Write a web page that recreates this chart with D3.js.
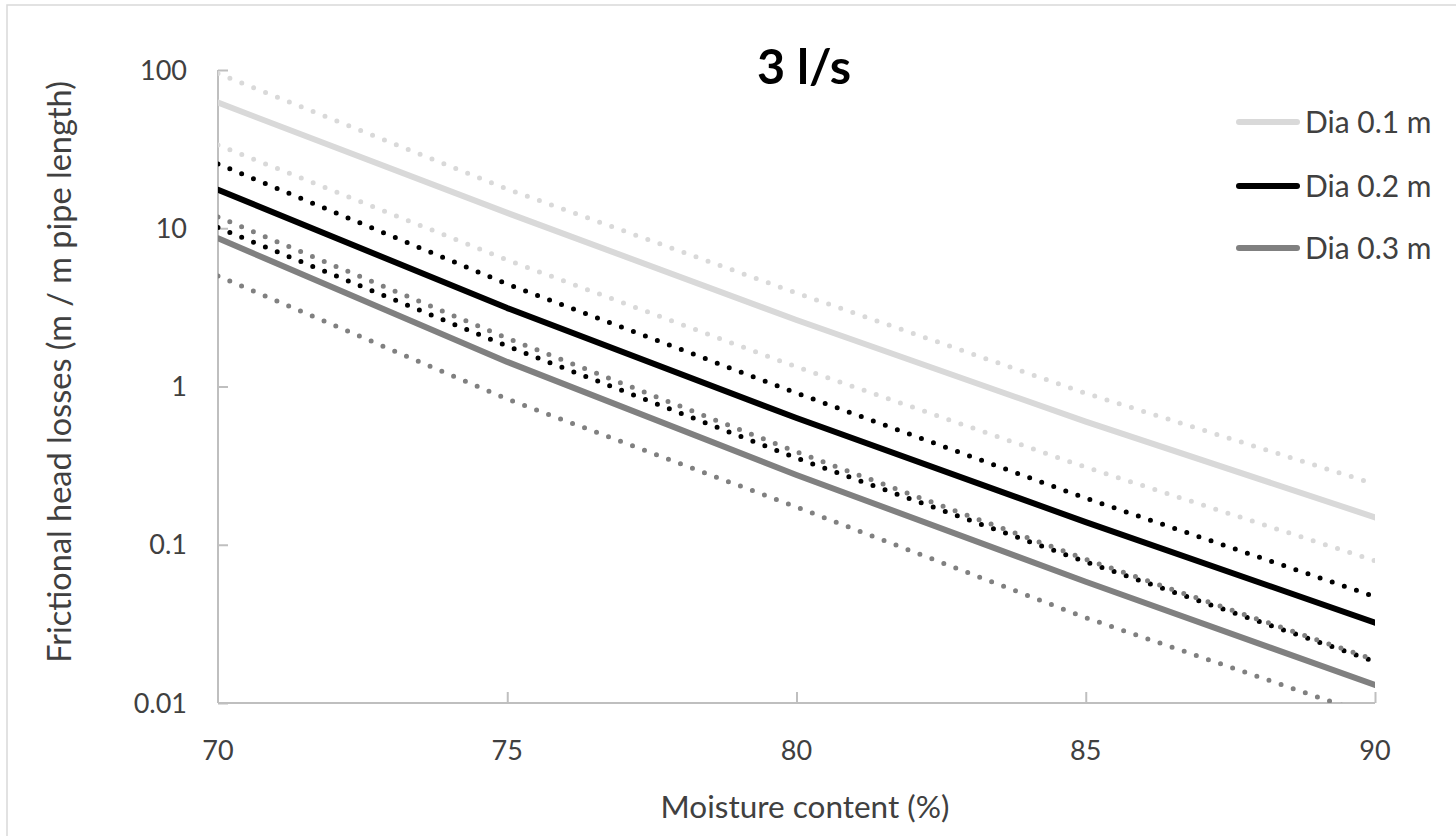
<!DOCTYPE html>
<html>
<head>
<meta charset="utf-8">
<script src="https://cdn.jsdelivr.net/npm/d3@7"></script>
<style>
  html, body { margin: 0; padding: 0; background: #fff; }
  svg { display: block; }
  text { font-family: Lato, "Open Sans", sans-serif; fill: #404040; }
</style>
</head>
<body>
<svg id="chart" width="1456" height="836"></svg>
<script>
// Moisture content (%) on the x axis
const moisture = [70, 75, 80, 85, 90];

// Frictional head losses (m / m pipe length), 3 l/s flow
const dia01      = [62.2, 12.5, 2.63, 0.600, 0.149];
const dia01Upper = [95.0, 17.7, 3.90, 0.906, 0.242];
const dia01Lower = [33.6, 6.30, 1.33, 0.309, 0.0793];

const dia02      = [17.5, 3.13, 0.632, 0.139, 0.0322];
const dia02Upper = [25.5, 4.44, 0.910, 0.197, 0.0470];
const dia02Lower = [10.1, 1.80, 0.353, 0.078, 0.0183];

const dia03      = [8.64, 1.43, 0.276, 0.0584, 0.0130];
const dia03Upper = [11.8, 2.02, 0.386, 0.081, 0.0187];
const dia03Lower = [4.99, 0.834, 0.173, 0.0346, 0.0082];

const seriesNames = ["Dia 0.1 m", "Dia 0.2 m", "Dia 0.3 m"];
const xTicks = [70, 75, 80, 85, 90];
const yTicks = [0.01, 0.1, 1, 10, 100];
const yTickLabels = ["0.01", "0.1", "1", "10", "100"];

const svg = d3.select("#chart");

const plot = { left: 218, right: 1375, top: 70, bottom: 703 };

const x = d3.scaleLinear().domain([70, 90]).range([plot.left, plot.right]);
const y = d3.scaleLog().domain([0.01, 100]).range([plot.bottom, plot.top]);

// chart area border
svg.append("rect")
  .attr("x", 7).attr("y", 5)
  .attr("width", 1470).attr("height", 860)
  .attr("fill", "none")
  .attr("stroke", "#d9d9d9")
  .attr("stroke-width", 1.5);

// clip to the plot area
svg.append("defs").append("clipPath").attr("id", "plotClip")
  .append("rect")
  .attr("x", plot.left).attr("y", plot.top)
  .attr("width", plot.right - plot.left)
  .attr("height", plot.bottom - plot.top);

const axisColor = "#bfbfbf";

// y axis (ticks point inward)
const yAxis = d3.axisRight(y)
  .tickValues(yTicks)
  .tickSize(10)
  .tickFormat("");
const gy = svg.append("g")
  .attr("transform", `translate(${plot.left},0)`)
  .call(yAxis);
gy.select(".domain").attr("stroke", axisColor).attr("stroke-width", 2)
  .attr("d", `M0,${plot.top}V${plot.bottom}`);
gy.selectAll(".tick line").attr("stroke", axisColor).attr("stroke-width", 2);

// x axis (ticks point up into the plot)
const xAxis = d3.axisTop(x)
  .tickValues(xTicks.slice(1))
  .tickSize(11)
  .tickFormat("");
const gx = svg.append("g")
  .attr("transform", `translate(0,${plot.bottom})`)
  .call(xAxis);
gx.select(".domain").attr("stroke", axisColor).attr("stroke-width", 2)
  .attr("d", `M${plot.left},0H${plot.right}`);
gx.selectAll(".tick line").attr("stroke", axisColor).attr("stroke-width", 2);

// tick labels
svg.append("g").selectAll("text")
  .data(yTicks)
  .join("text")
  .attr("x", 187)
  .attr("y", d => y(d))
  .attr("dy", "0.36em")
  .attr("text-anchor", "end")
  .attr("font-size", 27)
  .text((d, i) => yTickLabels[i]);

svg.append("g").selectAll("text")
  .data(xTicks)
  .join("text")
  .attr("x", d => x(d))
  .attr("y", 760)
  .attr("text-anchor", "middle")
  .attr("font-size", 27)
  .text(d => d);

// axis titles
svg.append("text")
  .attr("x", 805).attr("y", 818)
  .attr("text-anchor", "middle")
  .attr("font-size", 31.5)
  .text("Moisture content (%)");

svg.append("text")
  .attr("transform", "translate(71,372) rotate(-90)")
  .attr("text-anchor", "middle")
  .attr("font-size", 32.5)
  .text("Frictional head losses (m / m pipe length)");

// chart title
svg.append("text")
  .attr("x", 804).attr("y", 84)
  .attr("text-anchor", "middle")
  .attr("font-size", 48.5)
  .attr("font-weight", "bold")
  .style("fill", "#000")
  .text("3 l/s");

// series
const line = d3.line()
  .x((d, i) => x(moisture[i]))
  .y(d => y(d));

const lines = [
  { values: dia01Lower, color: "#d9d9d9", dotted: true },
  { values: dia01Upper, color: "#d9d9d9", dotted: true },
  { values: dia01,      color: "#d9d9d9", dotted: false },
  { values: dia03Lower, color: "#808080", dotted: true },
  { values: dia02Lower, color: "#000000", dotted: true },
  { values: dia03Upper, color: "#808080", dotted: true },
  { values: dia03,      color: "#808080", dotted: false },
  { values: dia02Upper, color: "#000000", dotted: true },
  { values: dia02,      color: "#000000", dotted: false }
];

const gLines = svg.append("g").attr("clip-path", "url(#plotClip)");
lines.forEach(s => {
  gLines.append("path")
    .datum(s.values)
    .attr("d", line)
    .attr("fill", "none")
    .attr("stroke", s.color)
    .attr("stroke-width", s.dotted ? 5 : 6)
    .attr("stroke-linecap", "round")
    .attr("stroke-linejoin", "round")
    .attr("stroke-dasharray", s.dotted ? "0 12.8" : null);
});

// legend
const legendColors = ["#d9d9d9", "#000000", "#808080"];
const legendY = [122, 186, 248];
const lg = svg.append("g");
seriesNames.forEach((name, i) => {
  lg.append("line")
    .attr("x1", 1239).attr("x2", 1297)
    .attr("y1", legendY[i]).attr("y2", legendY[i])
    .attr("stroke", legendColors[i])
    .attr("stroke-width", 6)
    .attr("stroke-linecap", "round");
  lg.append("text")
    .attr("x", 1305).attr("y", legendY[i])
    .attr("dy", "0.36em")
    .attr("font-size", 30)
    .text(name);
});
</script>
</body>
</html>
